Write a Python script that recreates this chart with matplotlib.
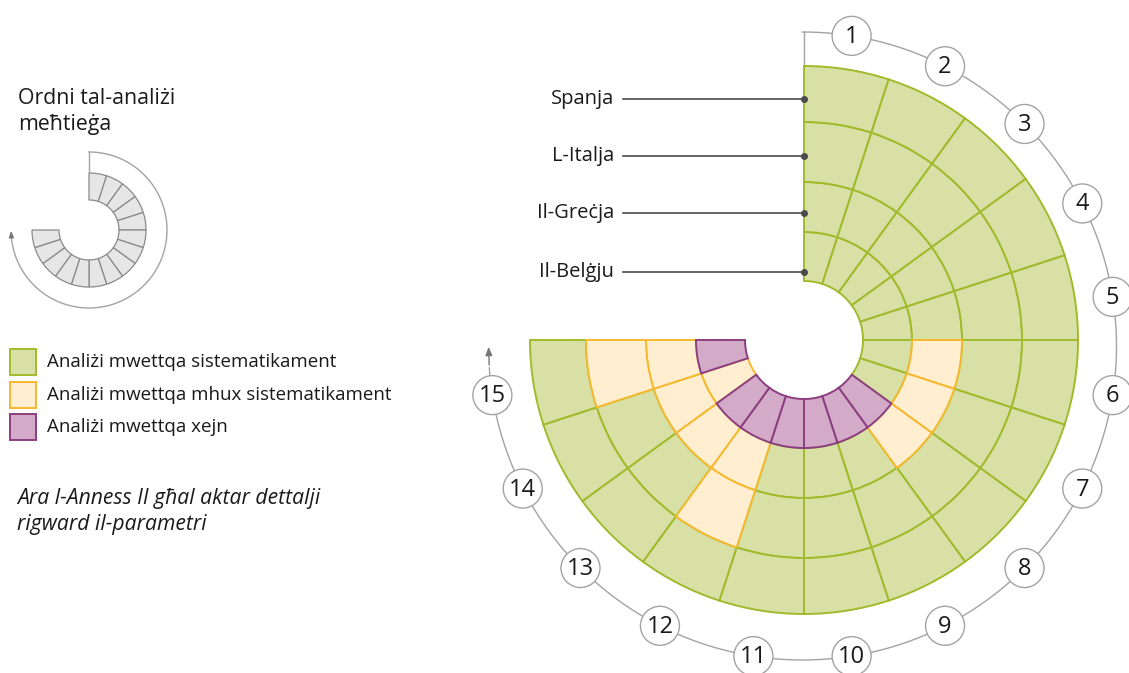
import matplotlib
matplotlib.use("Agg")
import matplotlib.pyplot as plt
from matplotlib.patches import Wedge, Circle, Rectangle
import numpy as np

plt.rcParams['font.family'] = ['Open Sans', 'DejaVu Sans']

# --- data -------------------------------------------------------------
# rings from the centre outwards
countries = ["Il-Belġju", "Il-Greċja", "L-Italja", "Spanja"]
steps = [1, 2, 3, 4, 5, 6, 7, 8, 9, 10, 11, 12, 13, 14, 15]
# 0 = sistematikament, 1 = mhux sistematikament, 2 = xejn
belgju = [0, 0, 0, 0, 0, 0, 0, 2, 2, 2, 2, 2, 2, 1, 2]
grecja = [0, 0, 0, 0, 0, 1, 1, 1, 0, 0, 0, 1, 1, 1, 1]
italja = [0, 0, 0, 0, 0, 0, 0, 0, 0, 0, 0, 1, 0, 0, 1]
spanja = [0, 0, 0, 0, 0, 0, 0, 0, 0, 0, 0, 0, 0, 0, 0]
status = [belgju, grecja, italja, spanja]

legend_labels = ["Analiżi mwettqa sistematikament",
                 "Analiżi mwettqa mhux sistematikament",
                 "Analiżi mwettqa xejn"]
title = "Ordni tal-analiżi\nmeħtieġa"
note = "Ara l-Anness II għal aktar dettalji\nrigward il-parametri"

# --- styles -----------------------------------------------------------
fills = ["#d9e0a6", "#ffefd0", "#d3abc9"]
edges = ["#9fbb2c", "#f6b82e", "#8c3f80"]
grey = "#a3a3a3"
txt = "#1a1a1a"

W, H = 1129, 673
fig = plt.figure(figsize=(W / 100, H / 100), dpi=100)
ax = fig.add_axes([0, 0, 1, 1])
ax.set_xlim(0, W)
ax.set_ylim(H, 0)
ax.axis('off')

# main chart geometry (pixels, y downwards)
cx, cy = 804, 340
ring_r = [59, 108, 158, 218, 274]
step_deg = 270 / len(steps)

# cells: draw green first so the yellow/purple borders sit on top
for cat in range(3):
    for j, row in enumerate(status):
        for i, s in enumerate(row):
            if s != cat:
                continue
            t1 = -90 + step_deg * i
            w = Wedge((cx, cy), ring_r[j + 1], t1, t1 + step_deg,
                      width=ring_r[j + 1] - ring_r[j],
                      facecolor=fills[s], edgecolor=edges[s],
                      lw=1.4, zorder=2 + cat)
            ax.add_patch(w)

# country labels with leader lines
label_r = [68, 127, 184, 241]
for name, r in zip(countries, label_r):
    y = cy - r
    ax.plot([623, cx], [y, y], color="#4a4a4a", lw=1.2, zorder=6)
    ax.plot(cx, y, 'o', color="#4a4a4a", ms=4, zorder=6)
    ax.text(614, y, name, ha='right', va='center', fontsize=14.5, color=txt)

# outer guide arc with numbered steps
acx, acy, R = 802.5, 346, 314
ax.plot([cx, cx], [cy - ring_r[-1], acy - R], color=grey, lw=1, zorder=1)
phi = np.radians(np.linspace(90, -176, 400))
ax.plot(acx + R * np.cos(phi), acy - R * np.sin(phi), color=grey, lw=1, zorder=1)
p0 = np.radians(-176)
ax.annotate("", xy=(acx - R, acy - 2), xytext=(acx + R * np.cos(p0), acy - R * np.sin(p0)),
            arrowprops=dict(arrowstyle='-|>,head_length=0.5,head_width=0.2',
                            color="#777777", lw=1), zorder=1)
for k in steps:
    p = np.radians(99 - step_deg * k)
    x, y = acx + R * np.cos(p), acy - R * np.sin(p)
    ax.add_patch(Circle((x, y), 19.5, facecolor='white', edgecolor=grey, lw=1, zorder=7))
    ax.text(x, y + 1, str(k), ha='center', va='center', fontsize=17, color=txt, zorder=8)

# small order icon
icx, icy = 89, 230
for i in range(len(steps)):
    t1 = -90 + step_deg * i
    ax.add_patch(Wedge((icx, icy), 57, t1, t1 + step_deg, width=27,
                       facecolor="#e6e6e6", edgecolor="#8a8a8a", lw=0.9))
ax.plot([icx, icx], [icy - 57, icy - 78], color=grey, lw=1)
phi = np.radians(np.linspace(90, -174, 200))
ax.plot(icx + 78 * np.cos(phi), icy - 78 * np.sin(phi), color=grey, lw=1)
p0 = np.radians(-174)
ax.annotate("", xy=(icx - 78, icy - 2), xytext=(icx + 78 * np.cos(p0), icy - 78 * np.sin(p0)),
            arrowprops=dict(arrowstyle='-|>,head_length=0.4,head_width=0.15',
                            color="#777777", lw=0.8))

ax.text(18, 130, title, ha='left', va='baseline', fontsize=15.3, color=txt,
        linespacing=1.3)

# legend
for i, lab in enumerate(legend_labels):
    y0 = 349 + 32.5 * i
    ax.add_patch(Rectangle((10, y0), 26, 26, facecolor=fills[i], edgecolor=edges[i], lw=1.4))
    ax.text(47, y0 + 13, lab, ha='left', va='center', fontsize=13.5, color=txt)

ax.text(17, 530, note, ha='left', va='baseline', fontsize=15.2, color=txt,
        style='italic', linespacing=1.3)

fig.savefig("out.png", dpi=100)
